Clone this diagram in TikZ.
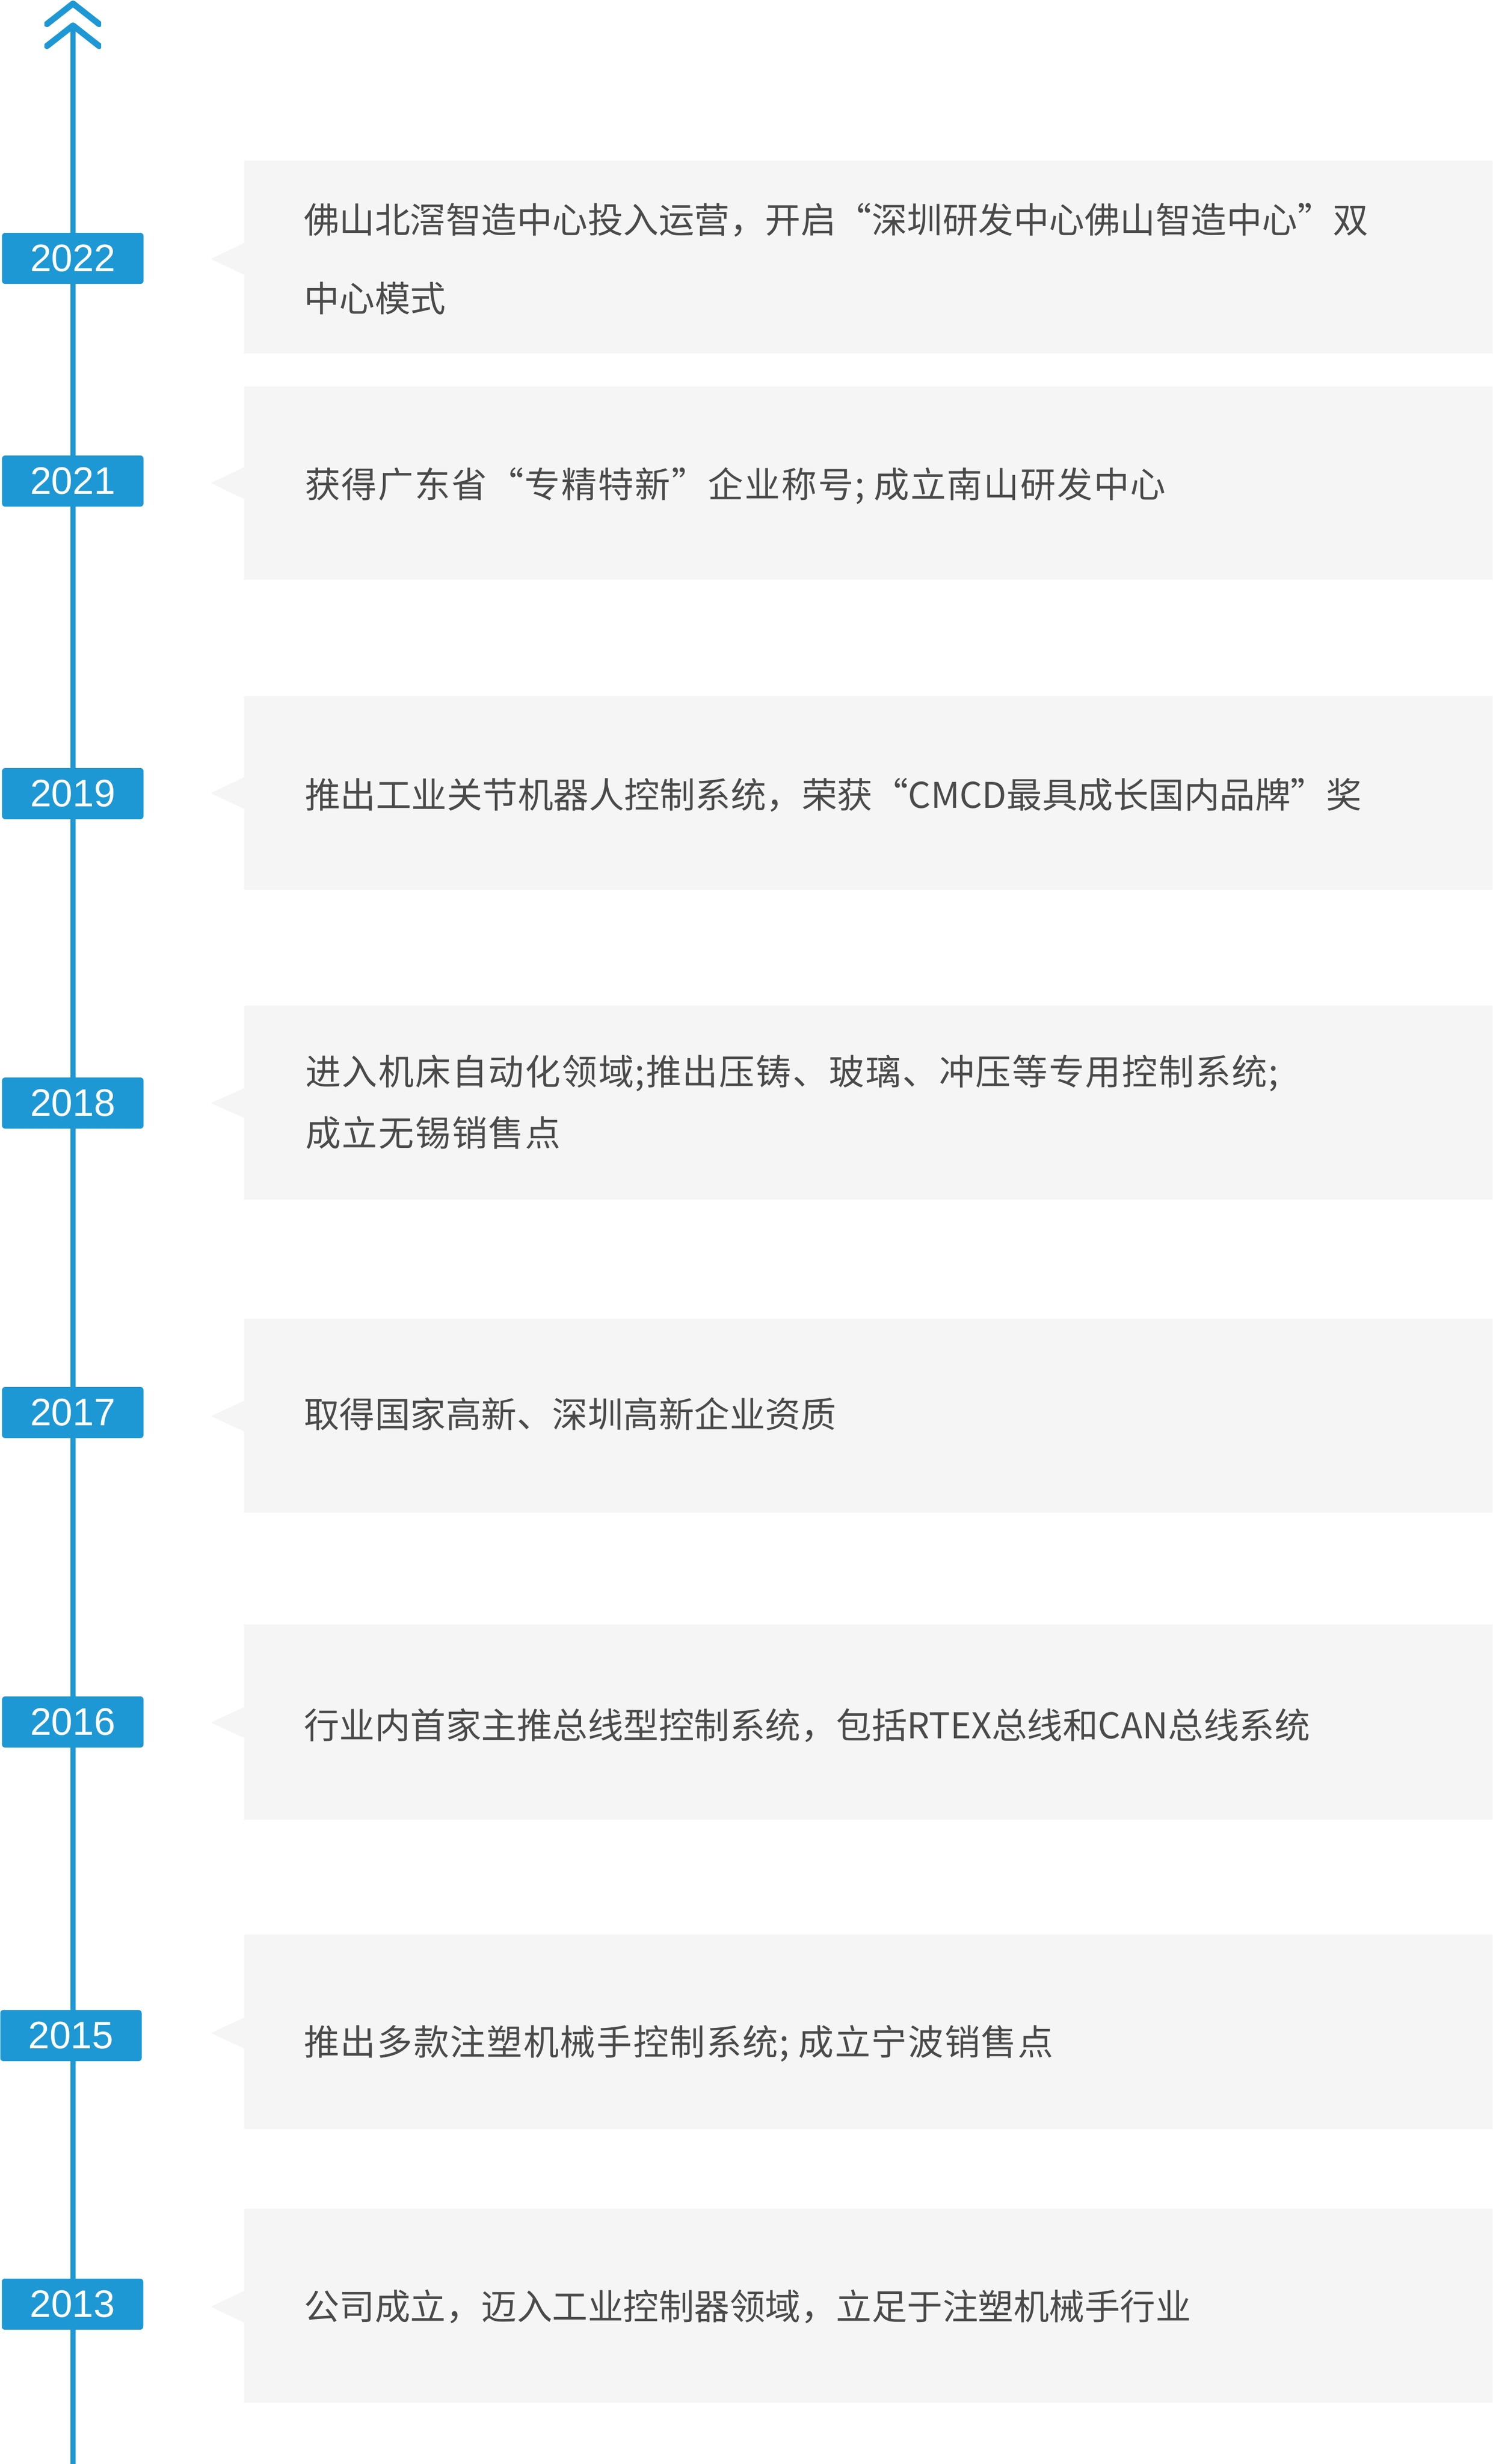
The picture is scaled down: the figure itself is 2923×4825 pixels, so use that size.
\documentclass[tikz,border=0pt]{standalone}
\usepackage{fontspec}
\newfontfamily\cjkfont{Noto Sans CJK SC}
\newfontfamily\yearfont{Liberation Sans}
\definecolor{tlblue}{RGB}{29,152,213}
\definecolor{boxgray}{RGB}{245,245,245}
\definecolor{txtgray}{RGB}{74,74,74}
\tikzset{
  axisline/.style={draw=tlblue, line width=10pt},
  chev/.style={draw=tlblue, line width=12pt, line cap=round, line join=round},
  yearbox/.style={fill=tlblue, rounded corners=6pt, minimum width=277pt, minimum height=100pt, inner sep=0pt, text=white, font=\yearfont\fontsize{75pt}{90pt}\selectfont},
  infobox/.style={fill=boxgray, draw=none},
  txt/.style={anchor=base west, inner sep=0pt, text=txtgray, font=\cjkfont\fontsize{69.5pt}{84pt}\selectfont},
  spaced/.style={font=\cjkfont\fontsize{69.5pt}{84pt}\selectfont\addfontfeature{LetterSpace=#1}}
}
\begin{document}
\begin{tikzpicture}[x=1pt,y=-1pt]
\useasboundingbox (0,0) rectangle (2923,4825);
\fill[white] (0,0) rectangle (2923,4825);
% info boxes with pointers
\fill[boxgray] (478,315) -- (2923,315) -- (2923,692) -- (478,692) -- (478,538) -- (413,507) -- (478,476) -- cycle;
\fill[boxgray] (478,757) -- (2923,757) -- (2923,1135) -- (478,1135) -- (478,977) -- (413,946) -- (478,915) -- cycle;
\fill[boxgray] (478,1363) -- (2923,1363) -- (2923,1742) -- (478,1742) -- (478,1584) -- (413,1553) -- (478,1522) -- cycle;
\fill[boxgray] (478,1969) -- (2923,1969) -- (2923,2349) -- (478,2349) -- (478,2189) -- (413,2160) -- (478,2131) -- cycle;
\fill[boxgray] (478,2582) -- (2923,2582) -- (2923,2962) -- (478,2962) -- (478,2803) -- (413,2773) -- (478,2743) -- cycle;
\fill[boxgray] (478,3181) -- (2923,3181) -- (2923,3563) -- (478,3563) -- (478,3403) -- (413,3373) -- (478,3343) -- cycle;
\fill[boxgray] (478,3788) -- (2923,3788) -- (2923,4169) -- (478,4169) -- (478,4011) -- (413,3981) -- (478,3951) -- cycle;
\fill[boxgray] (478,4325) -- (2923,4325) -- (2923,4705) -- (478,4705) -- (478,4548) -- (413,4517) -- (478,4486) -- cycle;
% texts
\node[txt] (t22a) at (595,456) {佛山北滘智造中心投入运营，开启“深圳研发中心佛山智造中心”双};
\node[txt] (t22b) at (595,610) {中心模式};
\node[txt, spaced=3.3] (t21) at (597,974) {获得广东省“专精特新”企业称号; 成立南山研发中心};
\node[txt] (t19) at (597,1582) {推出工业关节机器人控制系统，荣获“CMCD最具成长国内品牌”奖};
\node[txt, spaced=3.2] (t18a) at (598,2124) {进入机床自动化领域;推出压铸、玻璃、冲压等专用控制系统;};
\node[txt, spaced=3.2] (t18b) at (598,2244) {成立无锡销售点};
\node[txt] (t17) at (595,2795) {取得国家高新、深圳高新企业资质};
\node[txt] (t16) at (595,3404) {行业内首家主推总线型控制系统，包括RTEX总线和CAN总线系统};
\node[txt, spaced=3.1] (t15) at (595,4024) {推出多款注塑机械手控制系统; 成立宁波销售点};
\node[txt] (t13) at (595,4542) {公司成立，迈入工业控制器领域，立足于注塑机械手行业};
% axis
\coordinate (axtop) at (143,50);
\coordinate (axbot) at (143,4825);
\draw[axisline] (axtop) -- (axbot);
\begin{scope}
\clip (87,-5) rectangle (198,110);
\draw[chev] (92,47) -- (143,7) -- (194,47);
\draw[chev] (92,90) -- (143,50) -- (194,90);
\end{scope}
% year boxes
\node[yearbox] (y22) at (142.5,506) {2022};
\node[yearbox] (y21) at (142.5,942) {2021};
\node[yearbox] (y19) at (142.5,1554) {2019};
\node[yearbox] (y18) at (142.5,2160) {2018};
\node[yearbox] (y17) at (142.5,2766) {2017};
\node[yearbox] (y16) at (142.5,3372) {2016};
\node[yearbox] (y15) at (139,3986) {2015};
\node[yearbox] (y13) at (142,4512) {2013};
\end{tikzpicture}
\end{document}
